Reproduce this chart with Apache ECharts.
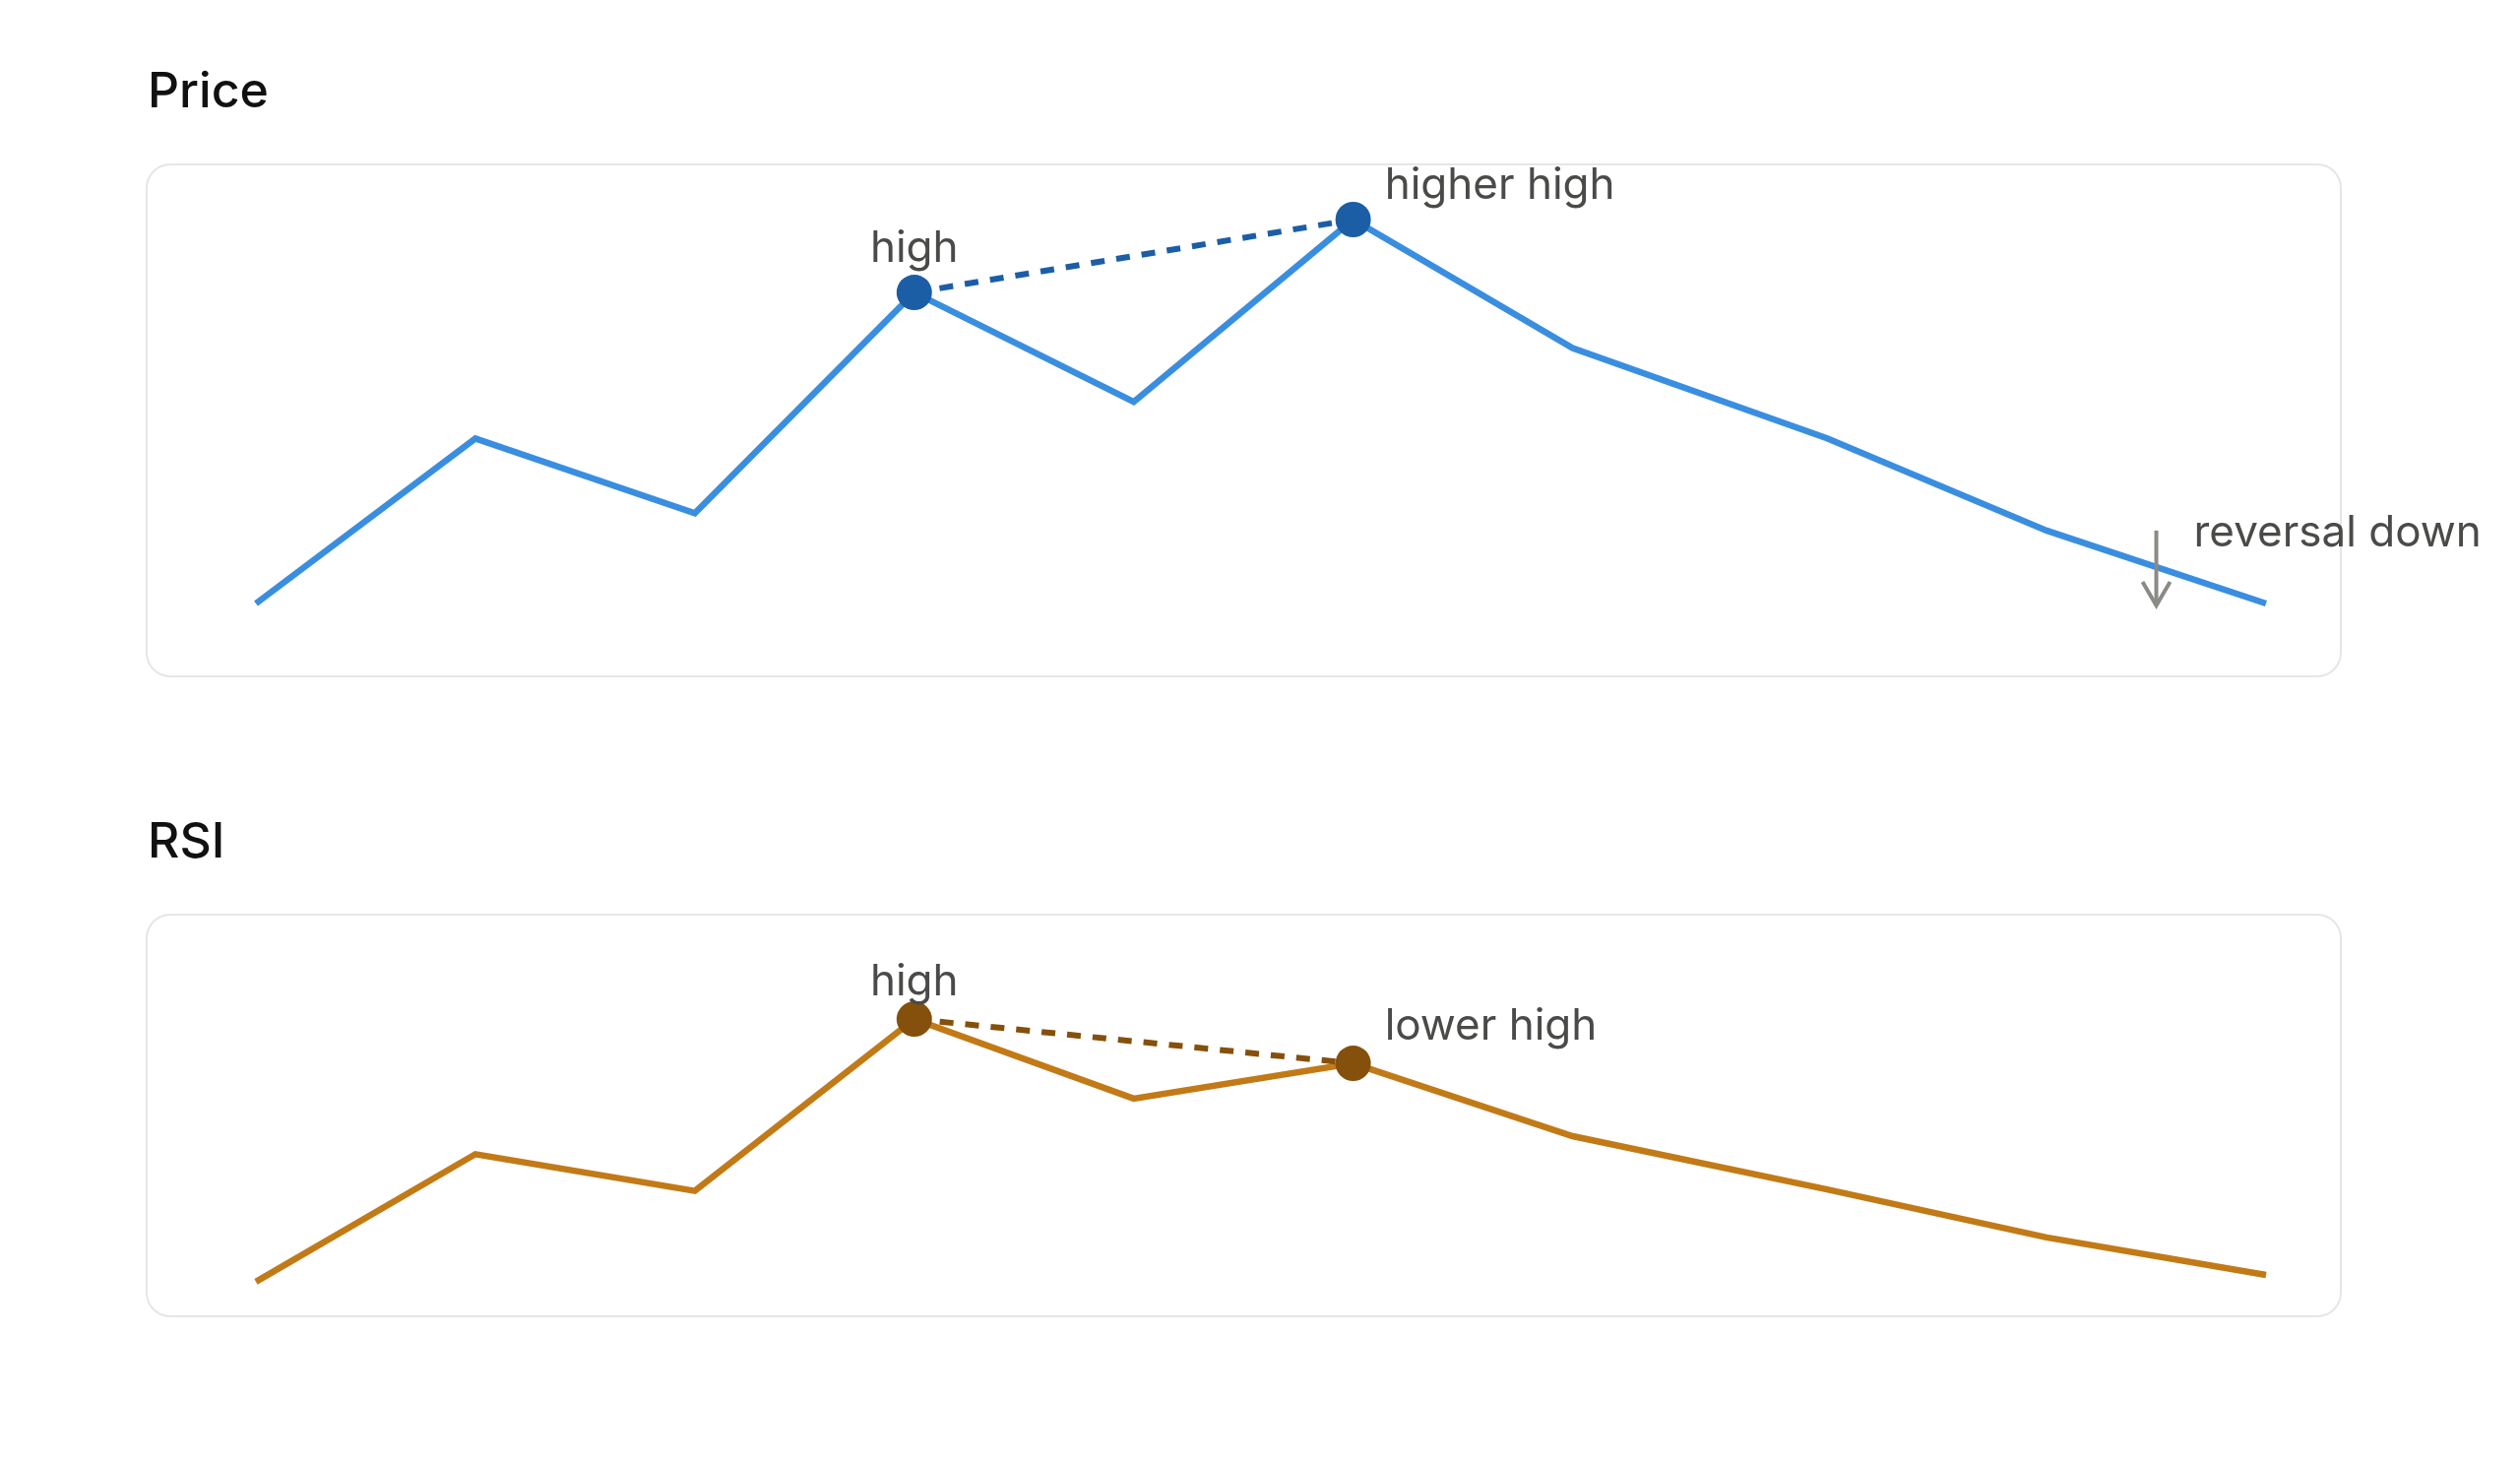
<!DOCTYPE html>
<html>
<head>
<meta charset="utf-8">
<script src="https://cdn.jsdelivr.net/npm/echarts@6/dist/echarts.min.js"></script>
<style>
  html, body { margin: 0; padding: 0; background: #ffffff; }
  #chart { width: 2560px; height: 1486px; }
</style>
</head>
<body>
<div id="chart"></div>
<script>
// ---- data ----
const timeIndex = [0, 1, 2, 3, 4, 5, 6, 7.16, 8.16, 9.16];
const priceValues = [100, 108.6, 104.7, 116.2, 110.5, 120, 113.3, 108.6, 103.8, 100];
const rsiValues = [40, 57.0, 52.1, 75, 64.4, 69.1, 59.4, 52.3, 45.9, 40.9];
const priceHighs = [[3, 116.2, 'high'], [5, 120, 'higher high']];
const rsiHighs = [[3, 75, 'high'], [5, 69.1, 'lower high']];
const reversalNote = [[8.66, 103.8, 99.9, 'reversal down']];
const panelTitles = ['Price', 'RSI'];

const FONT = 'Inter, "Noto Sans", Roboto, sans-serif';
const LABEL_COLOR = '#4a4a48';

const chart = echarts.init(document.getElementById('chart'), null, { renderer: 'canvas' });

function pairs(xs, ys) { return xs.map((x, i) => [x, ys[i]]); }

const option = {
  animation: false,
  backgroundColor: '#ffffff',
  title: [
    { text: panelTitles[0], left: 150, top: 69, padding: 0,
      textStyle: { fontFamily: FONT, fontSize: 50, fontWeight: 500, color: '#111111' } },
    { text: panelTitles[1], left: 150, top: 831, padding: 0,
      textStyle: { fontFamily: FONT, fontSize: 50, fontWeight: 500, color: '#111111' } }
  ],
  graphic: [
    { type: 'rect', shape: { x: 149, y: 167, width: 2229, height: 520, r: 24 },
      style: { fill: 'none', stroke: '#e6e6e6', lineWidth: 2 }, z: -1 },
    { type: 'rect', shape: { x: 149, y: 929, width: 2229, height: 408, r: 24 },
      style: { fill: 'none', stroke: '#e6e6e6', lineWidth: 2 }, z: -1 }
  ],
  grid: [
    { left: 260, width: 2042, top: 184, height: 468 },
    { left: 260, width: 2042, top: 997, height: 343 }
  ],
  xAxis: [
    { type: 'value', gridIndex: 0, min: 0, max: 9.16, show: false },
    { type: 'value', gridIndex: 1, min: 0, max: 9.16, show: false }
  ],
  yAxis: [
    { type: 'value', gridIndex: 0, min: 98, max: 122, show: false },
    { type: 'value', gridIndex: 1, min: 35, max: 80, show: false }
  ],
  series: [
    {
      type: 'line', xAxisIndex: 0, yAxisIndex: 0,
      data: pairs(timeIndex, priceValues),
      showSymbol: false, symbol: 'none',
      lineStyle: { color: '#3a8ee0', width: 6.5, join: 'miter', cap: 'butt' },
      z: 2
    },
    {
      type: 'line', xAxisIndex: 0, yAxisIndex: 0,
      data: priceHighs.map(d => [d[0], d[1]]),
      symbol: 'none',
      lineStyle: { color: '#1b5ea6', width: 6, type: [14, 12] },
      z: 3
    },
    {
      type: 'scatter', xAxisIndex: 0, yAxisIndex: 0,
      data: priceHighs.map((d, i) => ({
        value: [d[0], d[1]], name: d[2],
        label: i === 0
          ? { show: true, position: 'top', distance: 4 }
          : { show: true, position: 'right', distance: 14, offset: [0, -34] }
      })),
      symbolSize: 36,
      itemStyle: { color: '#1b5ea6', opacity: 1 },
      label: { formatter: p => p.name, fontFamily: FONT, fontSize: 44, color: LABEL_COLOR, opacity: 1 },
      emphasis: { disabled: true },
      z: 4
    },
    {
      type: 'custom', xAxisIndex: 0, yAxisIndex: 0,
      data: reversalNote,
      renderItem: function (params, api) {
        const top = api.coord([api.value(0), api.value(1)]);
        const bot = api.coord([api.value(0), api.value(2)]);
        const c = '#8a8a86';
        return {
          type: 'group',
          children: [
            { type: 'line', shape: { x1: top[0], y1: top[1], x2: bot[0], y2: bot[1] },
              style: { stroke: c, lineWidth: 4 } },
            { type: 'polyline', shape: { points: [[bot[0] - 14, bot[1] - 24], [bot[0], bot[1]], [bot[0] + 14, bot[1] - 24]] },
              style: { stroke: c, lineWidth: 4, fill: 'none' } },
            { type: 'text', x: top[0] + 38, y: top[1] + 3,
              style: { text: reversalNote[params.dataIndex][3], fontFamily: FONT, fontSize: 44,
                fill: LABEL_COLOR, verticalAlign: 'middle', align: 'left' } }
          ]
        };
      },
      z: 5
    },
    {
      type: 'line', xAxisIndex: 1, yAxisIndex: 1,
      data: pairs(timeIndex, rsiValues),
      showSymbol: false, symbol: 'none',
      lineStyle: { color: '#c27a17', width: 6.5, join: 'miter', cap: 'butt' },
      z: 2
    },
    {
      type: 'line', xAxisIndex: 1, yAxisIndex: 1,
      data: rsiHighs.map(d => [d[0], d[1]]),
      symbol: 'none',
      lineStyle: { color: '#85500b', width: 6, type: [14, 12] },
      z: 3
    },
    {
      type: 'scatter', xAxisIndex: 1, yAxisIndex: 1,
      data: rsiHighs.map((d, i) => ({
        value: [d[0], d[1]], name: d[2],
        label: i === 0
          ? { show: true, position: 'top', distance: -3 }
          : { show: true, position: 'right', distance: 14, offset: [0, -37] }
      })),
      symbolSize: 36,
      itemStyle: { color: '#85500b', opacity: 1 },
      label: { formatter: p => p.name, fontFamily: FONT, fontSize: 44, color: LABEL_COLOR, opacity: 1 },
      emphasis: { disabled: true },
      z: 4
    }
  ]
};
chart.setOption(option);
</script>
</body>
</html>
